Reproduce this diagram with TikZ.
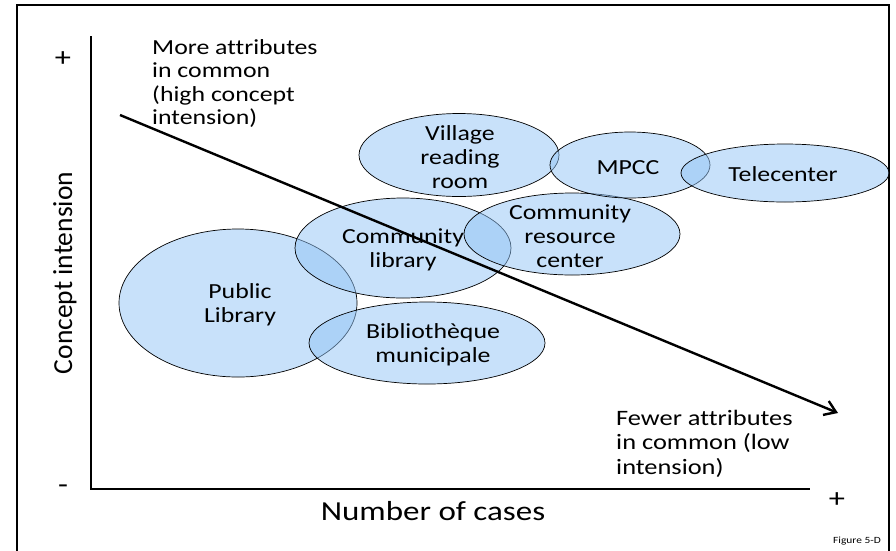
\documentclass[tikz,border=0pt]{standalone}
\usepackage{fontspec}
\setmainfont{Carlito}[FakeStretch=1.2,Ligatures=NoCommon]
\newfontfamily\plainfont{Carlito}[Ligatures=NoCommon]
\usetikzlibrary{shapes}
\usetikzlibrary{arrows.meta}
\definecolor{zonefill}{RGB}{145,195,245}
\tikzset{
    myzone/.style = {ellipse, draw=black, line width=0.7pt, fill=zonefill, fill opacity=0.5, inner sep=0pt},
    myzonetext/.style = {align=center, inner sep=0pt, text=black, font=\fontsize{21.5}{24}\selectfont},
    mynote/.style = {align=left, inner sep=0pt, anchor=north west, text=black},
    mysign/.style = {inner sep=0pt, font=\fontsize{27}{30}\selectfont},
    edgeaxis/.style = {-,line width=2pt,black},
    edgetrend/.style = {-{Straight Barb[length=11pt,width=15pt,line width=2.4pt]},line width=2.4pt,black},
    edgeframe/.style = {-,line width=1.6pt,black}
}

\begin{document}
\begin{tikzpicture}[x=1pt,y=-1pt]
  \useasboundingbox (0,0) rectangle (896,550);
  \draw[edgeframe] (17,5) rectangle (889,560);

  % zones
  \node[myzone, minimum width=238, minimum height=148] (publib) at (238,303) {};
  \node[myzone, minimum width=216, minimum height=100] (commlib) at (403,248) {};
  \node[myzone, minimum width=236, minimum height=82] (biblio) at (427,343) {};
  \node[myzone, minimum width=216, minimum height=82] (resource) at (572,234) {};
  \node[myzone, minimum width=200, minimum height=83] (village) at (459,155) {};
  \node[myzone, minimum width=160, minimum height=66] (mpcc) at (630,165) {};
  \node[myzone, minimum width=208, minimum height=58] (telecenter) at (785,173) {};

  \node[myzonetext] (publibt) at (240,305) {Public\\Library};
  \node[myzonetext] (commlibt) at (403,250) {Community\\library};
  \node[myzonetext] (bibliot) at (433,345) {Bibliothèque\\municipale};
  \node[myzonetext] (resourcet) at (570,236) {Community\\resource\\center};
  \node[myzonetext] (villaget) at (460,157) {Village\\reading\\room};
  \node[myzonetext] (mpcct) at (628,168) {MPCC};
  \node[myzonetext] (telecentert) at (783,174) {Telecenter};

  % axes
  \coordinate (ytop) at (91,36);
  \coordinate (xend) at (810,489);
  \draw[edgeaxis] (ytop) |- (xend);
  \node[mysign] (yplus) at (63,59) {+};
  \node[mysign] (yminus) at (63,489) {-};
  \node[mysign] (xplus) at (837,500) {+};
  \node[inner sep=0pt, rotate=90, font=\plainfont\fontsize{27.5}{30}\selectfont] (ylabel) at (65,273) {Concept intension};
  \node[inner sep=0pt, anchor=base, font=\fontsize{27.5}{30}\selectfont] (xlabel) at (433,520) {Number of cases};

  % trend
  \coordinate (trendstart) at (120,115);
  \coordinate (trendend) at (838,413);
  \draw[edgetrend] (trendstart) -- (trendend);

  \node[mynote, font=\fontsize{21.5}{23.5}\selectfont] (more) at (152,39) {More attributes\\in common\\(high concept\\intension)};
  \node[mynote, font=\fontsize{22}{24.5}\selectfont] (fewer) at (616,410) {Fewer attributes\\in common (low\\intension)};
  \node[inner sep=0pt, font=\fontsize{9.5}{11}\selectfont] (figno) at (857,541) {Figure 5-D};
\end{tikzpicture}
\end{document}
